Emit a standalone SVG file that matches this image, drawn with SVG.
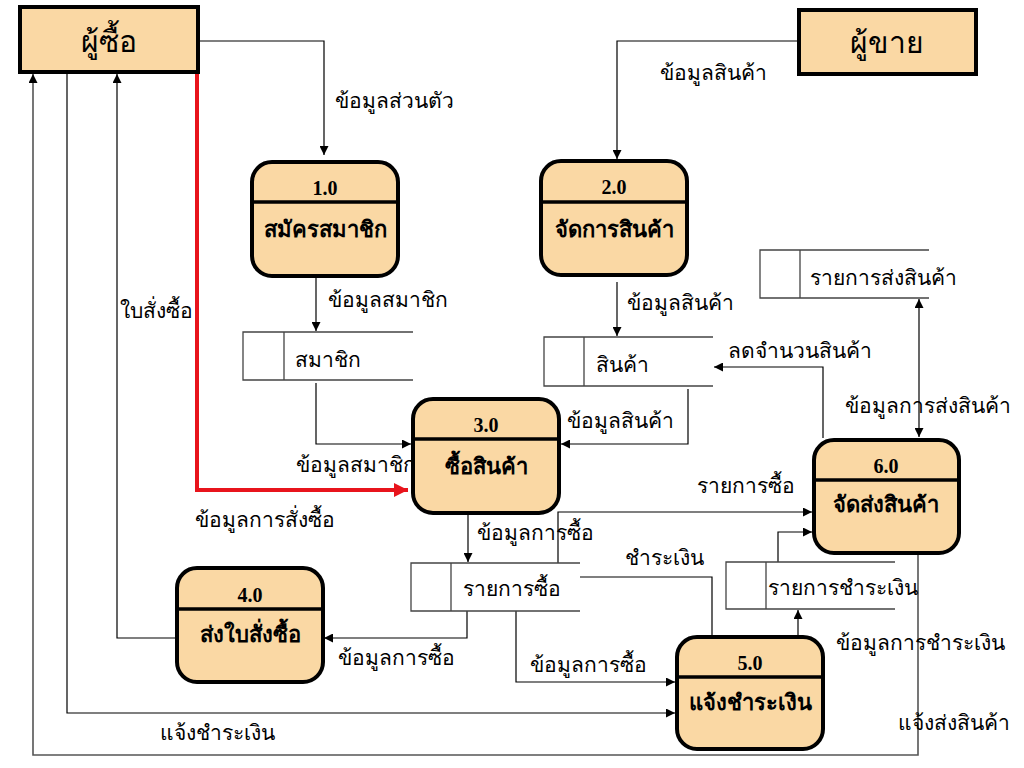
<svg xmlns="http://www.w3.org/2000/svg" width="1024" height="768" viewBox="0 0 1024 768">
<defs>
<marker id="ah" viewBox="0 0 10 10" refX="10" refY="5" markerWidth="9" markerHeight="9" markerUnits="userSpaceOnUse" orient="auto-start-reverse"><path d="M0,0 L10,5 L0,10 z" fill="#000"/></marker>
<marker id="ahr" viewBox="0 0 10 10" refX="10" refY="5" markerWidth="14" markerHeight="14" markerUnits="userSpaceOnUse" orient="auto"><path d="M0,0 L10,5 L0,10 z" fill="#e8141c"/></marker>
<style>
.ent{fill:#fad8a4;stroke:#000;stroke-width:4}
.proc{fill:#fad8a4;stroke:#000;stroke-width:4}
.div{stroke:#000;stroke-width:3.5}
.st{fill:#fff;stroke:#444;stroke-width:1.3}
.ln{fill:none;stroke:#000;stroke-width:1.2;marker-end:url(#ah)}
.t{font-family:"Liberation Serif","Noto Sans CJK SC",serif;font-size:21px;fill:#000}
.et{font-family:"Liberation Serif","Noto Sans CJK SC",serif;font-size:30px;fill:#000;text-anchor:middle}
.pn{font-family:"Liberation Serif","Noto Sans CJK SC",serif;font-size:20px;font-weight:bold;fill:#000;text-anchor:middle}
.pt{font-family:"Liberation Serif","Noto Sans CJK SC",serif;font-size:22px;font-weight:bold;fill:#000;text-anchor:middle}
</style>
</defs>
<rect width="1024" height="768" fill="#fff"/>

<g id="connectors">
<path class="ln" d="M199,41 H324 V155"/>
<path class="ln" d="M797,41 H617 V159"/>
<path class="ln" d="M316,278 V331"/>
<path class="ln" d="M617,282 V336"/>
<path class="ln" d="M316,383 V444 H411"/>
<path class="ln" d="M688,389 V444 H561"/>
<path d="M197,73 V490 H408" fill="none" stroke="#e8141c" stroke-width="4" marker-end="url(#ahr)"/>
<path class="ln" d="M919,299 V437" marker-start="url(#ah)"/>
<path class="ln" d="M823,438 V367 H714"/>
<path class="ln" d="M558,563 V512 H812"/>
<path class="ln" d="M176,638 H117 V74"/>
<path class="ln" d="M468,514 V562"/>
<path class="ln" d="M467,611 V638 H324"/>
<path class="ln" d="M516,611 V682 H675"/>
<path class="ln" d="M712,636 V577 H570"/>
<path class="ln" d="M798,635 V610"/>
<path class="ln" d="M778,562 V532 H812"/>
<path class="ln" d="M918,554 V755 H33 V74" style="stroke:#555;stroke-width:1.6"/>
<path class="ln" d="M67,73 V713 H675"/>
</g>

<g id="labels">
<text class="t" x="335" y="108">ข้อมูลส่วนตัว</text>
<text class="t" x="660" y="80">ข้อมูลสินค้า</text>
<text class="t" x="328" y="307">ข้อมูลสมาชิก</text>
<text class="t" x="627" y="310">ข้อมูลสินค้า</text>
<text class="t" x="296" y="472">ข้อมูลสมาชิก</text>
<text class="t" x="567" y="428">ข้อมูลสินค้า</text>
<text class="t" x="195" y="527">ข้อมูลการสั่งซื้อ</text>
<text class="t" x="120" y="318">ใบสั่งซื้อ</text>
<text class="t" x="728" y="358">ลดจำนวนสินค้า</text>
<text class="t" x="845" y="413">ข้อมูลการส่งสินค้า</text>
<text class="t" x="697" y="493">รายการซื้อ</text>
<text class="t" x="477" y="540">ข้อมูลการซื้อ</text>
<text class="t" x="625" y="565">ชำระเงิน</text>
<text class="t" x="338" y="665">ข้อมูลการซื้อ</text>
<text class="t" x="530" y="672">ข้อมูลการซื้อ</text>
<text class="t" x="836" y="650">ข้อมูลการชำระเงิน</text>
<text class="t" x="898" y="730">แจ้งส่งสินค้า</text>
<text class="t" x="160" y="740">แจ้งชำระเงิน</text>
</g>

<g id="buyer">
<rect class="ent" x="20" y="7" width="178" height="65"/>
<text class="et" x="109" y="52">ผู้ซื้อ</text>
</g>
<g id="seller">
<rect class="ent" x="799" y="10" width="177" height="64"/>
<text class="et" x="887" y="53">ผู้ขาย</text>
</g>

<g id="p1">
<rect class="proc" x="252" y="162" width="146" height="114" rx="20"/>
<line class="div" x1="252" y1="202" x2="398" y2="202"/>
<text class="pn" x="325" y="195">1.0</text>
<text class="pt" x="325" y="237">สมัครสมาชิก</text>
</g>
<g id="p2">
<rect class="proc" x="541" y="161" width="146" height="114" rx="20"/>
<line class="div" x1="541" y1="202" x2="687" y2="202"/>
<text class="pn" x="614" y="194">2.0</text>
<text class="pt" x="614" y="237">จัดการสินค้า</text>
</g>
<g id="p3">
<rect class="proc" x="413" y="399" width="146" height="114" rx="20"/>
<line class="div" x1="413" y1="439" x2="559" y2="439"/>
<text class="pn" x="486" y="432">3.0</text>
<text class="pt" x="486" y="474">ซื้อสินค้า</text>
</g>
<g id="p4">
<rect class="proc" x="177" y="568" width="146" height="114" rx="20"/>
<line class="div" x1="177" y1="609" x2="323" y2="609"/>
<text class="pn" x="250" y="602">4.0</text>
<text class="pt" x="250" y="642">ส่งใบสั่งซื้อ</text>
</g>
<g id="p5">
<rect class="proc" x="677" y="637" width="146" height="112" rx="20"/>
<line class="div" x1="677" y1="677" x2="823" y2="677"/>
<text class="pn" x="750" y="670">5.0</text>
<text class="pt" x="750" y="710">แจ้งชำระเงิน</text>
</g>
<g id="p6">
<rect class="proc" x="814" y="440" width="145" height="113" rx="20"/>
<line class="div" x1="814" y1="480" x2="959" y2="480"/>
<text class="pn" x="886" y="473">6.0</text>
<text class="pt" x="886" y="512">จัดส่งสินค้า</text>
</g>

<g id="ds-member">
<path class="st" d="M413,332 H243 V380 H413 M284,332 V380"/>
<text class="t" x="295" y="367">สมาชิก</text>
</g>
<g id="ds-product">
<path class="st" d="M713,337 H544 V386 H713 M584,337 V386"/>
<text class="t" x="596" y="372">สินค้า</text>
</g>
<g id="ds-shipping">
<path class="st" d="M929,250 H760 V298 H929 M800,250 V298"/>
<text class="t" x="810" y="285">รายการส่งสินค้า</text>
</g>
<g id="ds-purchase">
<path class="st" d="M580,563 H411 V611 H580 M451,563 V611"/>
<text class="t" x="463" y="596">รายการซื้อ</text>
</g>
<g id="ds-payment">
<path class="st" d="M895,562 H726 V609 H895 M766,562 V609"/>
<text class="t" x="768" y="595">รายการชำระเงิน</text>
</g>
</svg>
